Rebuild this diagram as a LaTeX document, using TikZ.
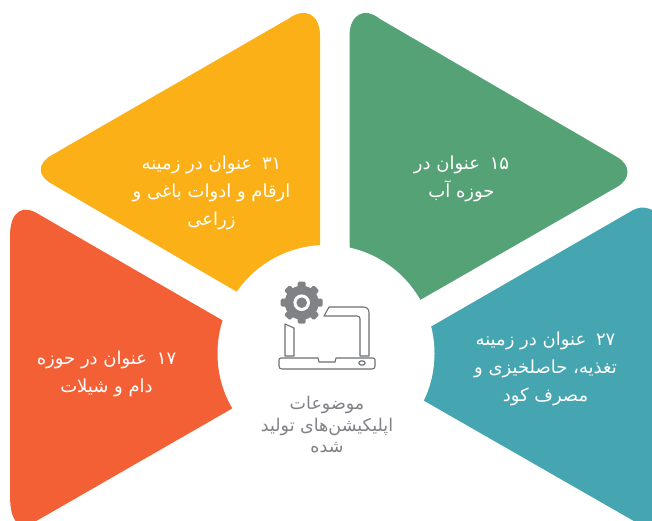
\documentclass[tikz,border=0pt]{standalone}
\usepackage{fontspec}
\newfontfamily\arabicfont[Script=Arabic]{DejaVu Sans}
\TeXXeTstate=1
\definecolor{cyellow}{HTML}{FBB017}
\definecolor{cgreen}{HTML}{55A276}
\definecolor{cteal}{HTML}{45A5B0}
\definecolor{corange}{HTML}{F46036}
\definecolor{cgrey}{HTML}{808285}
\tikzset{
  lbl/.style={align=center,text=white,font=\arabicfont\fontsize{18}{28}\selectfont},
  centerlbl/.style={align=center,text=cgrey,font=\arabicfont\fontsize{17.5}{21.5}\selectfont},
  outline/.style={draw=cgrey!85!black,line width=1.1pt,line join=round,fill=white}
}
\newcommand{\rtl}[1]{\beginR #1\endR}
\newcommand{\num}[1]{\beginL #1\endL{}\hspace{4pt}}
\begin{document}
\begin{tikzpicture}[x=1pt,y=-1pt]
\useasboundingbox (0,0) rectangle (652,521);
\clip (0,0) rectangle (652,521);
% yellow
\fill[cyellow] (320,36) .. controls (320,15) and (306,6) .. (288,19)
  -- (52,155) .. controls (37,163) and (37,176) .. (52,184)
  -- (280,317) -- (320,317) -- cycle;
% green
\fill[cgreen] (349.5,36) .. controls (349.5,15) and (364,6) .. (380,19)
  -- (617,157) .. controls (631,165) and (631,179) .. (617,187)
  -- (380,323) -- (349.5,323) -- cycle;
% teal
\fill[cteal] (400,344.5) -- (628,213) .. controls (640,205) and (648,206) .. (660,215)
  -- (660,536) -- (400,387) -- cycle;
% orange
\fill[corange] (10,236) .. controls (10,212) and (22,203) .. (40,215)
  -- (260,342) -- (260,392.5) -- (38,520) .. controls (20,530) and (10,525) .. (10,495) -- cycle;
% centre disc
\fill[white] (326,353.5) circle[radius=108.5];
% gear
\fill[cgrey] (301.7,302.7) circle[radius=17];
\foreach \a in {0,45,...,315}{
  \fill[cgrey,rounded corners=1.5pt,rotate around={\a:(301.7,302.7)}] (297.7,281.7) rectangle (305.7,292);
}
\fill[white] (301.7,302.7) circle[radius=8.3];
\fill[cgrey] (301.7,302.7) circle[radius=5.3];
% laptop
\draw[outline] (324,316) -- (329,307) -- (363,307) .. controls (367,307) and (369,309) .. (369,313)
  -- (369,356) -- (360,356) -- (360,319) .. controls (360,317) and (359,316) .. (357,316) -- cycle;
\draw[outline] (285,324) -- (294,328) -- (294,356) -- (285,356) -- cycle;
\draw[outline] (281,358) -- (318,358) -- (319,362) -- (335,362) -- (336,358) -- (373,358)
  .. controls (374.5,358) and (375,359) .. (375,360) -- (375,366) .. controls (375,368) and (374,369) .. (372,369)
  -- (282,369) .. controls (280,369) and (279,368) .. (279,366) -- (279,360) .. controls (279,359) and (279.5,358) .. (281,358) -- cycle;
\draw[outline,rounded corners=1.5pt] (359,361) rectangle (365,365);
% labels
\node[lbl] (tyellow) at (211.5,192.5) {\rtl{\num{۳۱} عنوان در زمینه}\\\rtl{ارقام و ادوات باغی و}\\\rtl{زراعی}};
\node[lbl] (tgreen) at (461.5,179) {\rtl{\num{۱۵} عنوان در}\\\rtl{حوزه آب}};
\node[lbl] (tteal) at (545.5,368.5) {\rtl{\num{۲۷} عنوان در زمینه}\\\rtl{تغذیه، حاصلخیزی و}\\\rtl{مصرف کود}};
\node[lbl] (torange) at (106.5,373.5) {\rtl{\num{۱۷} عنوان در حوزه}\\\rtl{دام و شیلات}};
\node[centerlbl] (tcenter) at (327,425) {\rtl{موضوعات}\\\rtl{اپلیکیشن‌های تولید}\\\rtl{شده}};
\end{tikzpicture}
\end{document}
